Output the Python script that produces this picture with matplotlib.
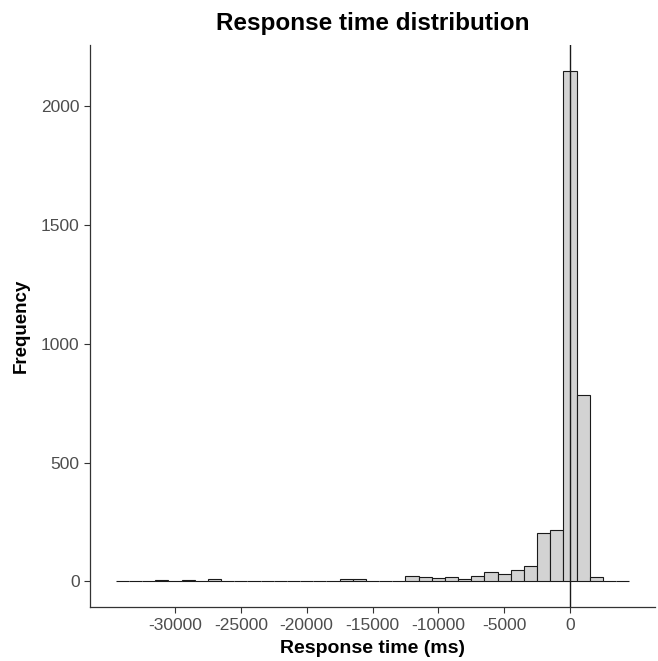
import numpy as np
import matplotlib
matplotlib.use("Agg")
import matplotlib.pyplot as plt

plt.rcParams['font.family'] = ['Liberation Sans', 'DejaVu Sans']
plt.rcParams['axes.unicode_minus'] = False

# histogram bins (centre of each 1000 ms bin) and counts
bin_centers = np.arange(-34000, 5000, 1000)
counts = [0, 1, 1, 5, 1, 6, 1, 12, 1, 1,
          2, 1, 2, 4, 3, 3, 4, 10, 10, 2,
          2, 3, 24, 19, 15, 18, 11, 25, 41, 30,
          50, 67, 205, 218, 2150, 785, 18, 0, 0]
bin_width = 1000

x_ticks = [-30000, -25000, -20000, -15000, -10000, -5000, 0]
y_ticks = [0, 500, 1000, 1500, 2000]

fig = plt.figure(figsize=(6.58, 6.61), dpi=100)
ax = fig.add_axes([90 / 658, 54 / 661, 565 / 658, 562 / 661])

ax.bar(bin_centers, counts, width=bin_width, color='#D3D3D3',
       edgecolor='#1a1a1a', linewidth=0.8, zorder=2)
ax.axvline(0, color='#1a1a1a', linewidth=1.0, zorder=3)

# ggplot-like 5% expansion
lo = bin_centers[0] - bin_width / 2
hi = bin_centers[-1] + bin_width / 2
pad = 0.05 * (hi - lo)
ax.set_xlim(lo - pad, hi + pad)
ymax = max(counts)
ax.set_ylim(-0.05 * ymax, 1.05 * ymax)

ax.set_xticks(x_ticks)
ax.set_yticks(y_ticks)
ax.tick_params(labelsize=12.5, labelcolor='#4D4D4D', length=4, width=0.8,
               color='#333333')
ax.tick_params(axis='x', pad=4)

for side in ('top', 'right'):
    ax.spines[side].set_visible(False)
for side in ('left', 'bottom'):
    ax.spines[side].set_linewidth(0.9)
    ax.spines[side].set_color('#333333')

ax.set_xlabel('Response time (ms)', fontsize=14, fontweight='bold', labelpad=5)
ax.set_ylabel('Frequency', fontsize=13.5, fontweight='bold', labelpad=8)
ax.set_title('Response time distribution', fontsize=17.5, fontweight='bold', pad=11)

fig.savefig('out.png', dpi=100)
